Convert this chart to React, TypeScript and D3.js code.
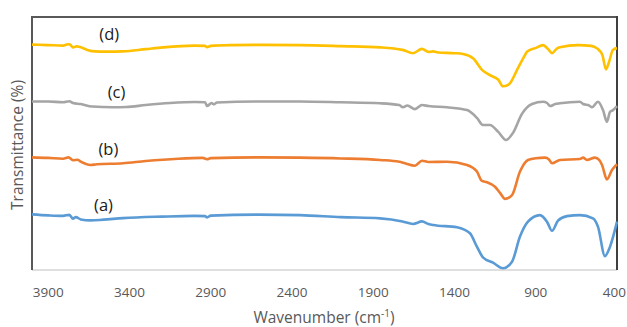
import React from "react";
import * as d3 from "d3";

const xTicks = [3900, 3400, 2900, 2400, 1900, 1400, 900, 400];

const seriesNames = ["(a)", "(b)", "(c)", "(d)"];
const seriesColors = ["#5B9BD5", "#ED7D31", "#A5A5A5", "#FFC000"];

// [wavenumber (cm-1), transmittance (%)] — stacked, offset spectra
const specA: [number, number][] = [
  [4000, 22.0], [3900, 21.6], [3809, 21.4], [3770, 21.8], [3748, 20.3], [3730, 20.9], [3700, 20.0],
  [3640, 19.6], [3560, 19.9], [3440, 20.5], [3200, 21.1], [3000, 21.4], [2935, 21.3], [2923, 20.8],
  [2900, 21.5], [2600, 21.9], [2351, 21.7], [2100, 20.9], [1858, 20.4], [1720, 19.2], [1655, 18.2],
  [1600, 19.2], [1560, 18.2], [1532, 17.8], [1385, 16.9], [1305, 14.5], [1262, 9.2], [1225, 5.0],
  [1163, 2.9], [1102, 0.7], [1046, 3.3], [997, 13.2], [948, 19.1], [874, 21.7], [831, 19.1],
  [800, 15.5], [763, 19.5], [708, 21.3], [628, 21.7], [548, 20.4], [517, 17.1], [474, 5.5],
  [443, 9.2], [400, 19.1],
];
const specB: [number, number][] = [
  [4000, 44.5], [3900, 44.3], [3809, 44.0], [3775, 44.5], [3748, 43.4], [3720, 43.6], [3700, 42.8],
  [3640, 41.5], [3600, 41.8], [3440, 42.2], [3300, 43.1], [3100, 44.0], [2950, 44.3], [2923, 43.8],
  [2900, 44.2], [2600, 44.5], [2351, 44.4], [2100, 44.1], [1858, 43.5], [1740, 42.8], [1705, 42.2],
  [1643, 41.2], [1600, 43.2], [1560, 42.7], [1446, 42.8], [1323, 41.5], [1262, 38.9], [1231, 35.2],
  [1200, 34.7], [1151, 32.9], [1120, 30.5], [1089, 28.1], [1046, 29.6], [997, 38.9], [948, 43.5],
  [900, 44.2], [843, 44.4], [820, 43.8], [800, 42.2], [751, 43.5], [628, 43.9], [609, 44.4],
  [585, 43.5], [535, 44.4], [510, 43.5], [492, 41.5], [462, 35.8], [431, 39.5], [400, 41.8],
];
const specC: [number, number][] = [
  [4000, 66.6], [3900, 66.6], [3809, 66.3], [3770, 66.7], [3748, 66.0], [3700, 65.6], [3630, 64.6],
  [3500, 64.3], [3420, 64.4], [3300, 65.2], [3150, 66.0], [3000, 66.4], [2935, 66.3], [2923, 64.8],
  [2895, 66.0], [2880, 65.5], [2862, 66.2], [2600, 66.6], [2351, 66.6], [2100, 66.3], [1858, 65.9],
  [1740, 65.2], [1717, 64.3], [1690, 65.0], [1643, 63.6], [1600, 65.2], [1560, 64.8], [1446, 64.3],
  [1323, 63.2], [1262, 60.1], [1225, 57.3], [1182, 57.3], [1132, 54.7], [1083, 51.4], [1040, 54.2],
  [985, 61.7], [923, 65.6], [855, 66.5], [830, 66.0], [812, 64.8], [780, 65.6], [751, 65.9],
  [628, 66.5], [609, 65.6], [570, 65.0], [554, 64.3], [517, 66.5], [486, 63.2], [462, 58.6],
  [443, 62.5], [425, 63.2], [400, 64.8],
];
const specD: [number, number][] = [
  [4000, 89.1], [3900, 88.9], [3809, 88.7], [3780, 89.2], [3766, 89.1], [3748, 88.0], [3725, 88.4],
  [3705, 88.1], [3660, 87.0], [3631, 86.5], [3540, 86.3], [3440, 86.4], [3300, 87.3], [3194, 88.0],
  [3000, 88.7], [2935, 88.6], [2923, 88.1], [2900, 88.6], [2782, 88.9], [2600, 89.0], [2351, 88.9],
  [2100, 88.5], [1858, 88.0], [1720, 87.0], [1655, 85.7], [1600, 87.4], [1560, 86.2], [1532, 86.4],
  [1500, 86.0], [1400, 85.7], [1348, 85.4], [1286, 83.7], [1231, 79.1], [1163, 76.4], [1130, 75.2],
  [1102, 72.6], [1070, 73.2], [1058, 73.9], [1015, 79.1], [970, 84.5], [954, 86.3], [900, 87.8],
  [855, 88.9], [820, 87.0], [800, 85.7], [770, 87.5], [751, 88.0], [640, 88.9], [560, 88.6],
  [523, 87.6], [490, 85.0], [468, 79.3], [450, 82.0], [425, 87.0], [400, 87.7],
];

const spectra = [specA, specB, specC, specD];
// label anchor positions in data units [wavenumber, transmittance]
const labelPos: [number, number][] = [
  [3560, 23.2], [3530, 45.6], [3480, 68.0], [3525, 90.8],
];

export default function App() {
  const W = 627;
  const H = 327;
  const left = 32, right = 617, top = 17, bottom = 270;
  const x = d3.scaleLinear().domain([4000, 400]).range([left, right]);
  const y = d3.scaleLinear().domain([0, 100]).range([bottom, top]);
  const line = d3
    .line<[number, number]>()
    .x((d) => x(d[0]))
    .y((d) => y(d[1]))
    .curve(d3.curveMonotoneX);
  const font = "'Open Sans', 'Noto Sans', sans-serif";

  return (
    <svg
      width={W}
      height={H}
      style={{ position: "absolute", left: 0, top: 0, background: "#fff" }}
      fontFamily={font}
    >
      {/* frame */}
      <line x1={left} x2={right} y1={bottom} y2={bottom} stroke="#BFBFBF" strokeWidth={1} />
      <line x1={left} x2={right} y1={top} y2={top} stroke="#595959" strokeWidth={2} />
      <line x1={left} x2={left} y1={top - 1} y2={bottom} stroke="#595959" strokeWidth={2} />
      <line x1={right} x2={right} y1={top - 1} y2={bottom} stroke="#404040" strokeWidth={2} />

      {spectra.map((s, i) => (
        <path
          key={i}
          d={line(s) || ""}
          fill="none"
          stroke={seriesColors[i]}
          strokeWidth={2.6}
          strokeLinejoin="round"
        />
      ))}

      {seriesNames.map((n, i) => (
        <text
          key={n}
          x={x(labelPos[i][0])}
          y={y(labelPos[i][1])}
          textAnchor="middle"
          fontSize={16.5}
          fill="#1a1a1a"
        >
          {n}
        </text>
      ))}

      {xTicks.map((t) => {
        const px = x(t);
        const atEdge = px + 12 > W - 1;
        return (
          <text
            key={t}
            x={atEdge ? W - 1 : px}
            y={297}
            textAnchor={atEdge ? "end" : "middle"}
            fontSize={13.5}
            fill="#595959"
          >
            {t}
          </text>
        );
      })}

      <text x={324} y={323} textAnchor="middle" fontSize={15.5} fill="#595959">
        Wavenumber (cm
        <tspan fontSize={10} dy={-6}>-1</tspan>
        <tspan dy={6}>)</tspan>
      </text>
      <text
        transform={`translate(23, 145) rotate(-90)`}
        textAnchor="middle"
        fontSize={15.5}
        fill="#595959"
      >
        Transmittance (%)
      </text>
    </svg>
  );
}
